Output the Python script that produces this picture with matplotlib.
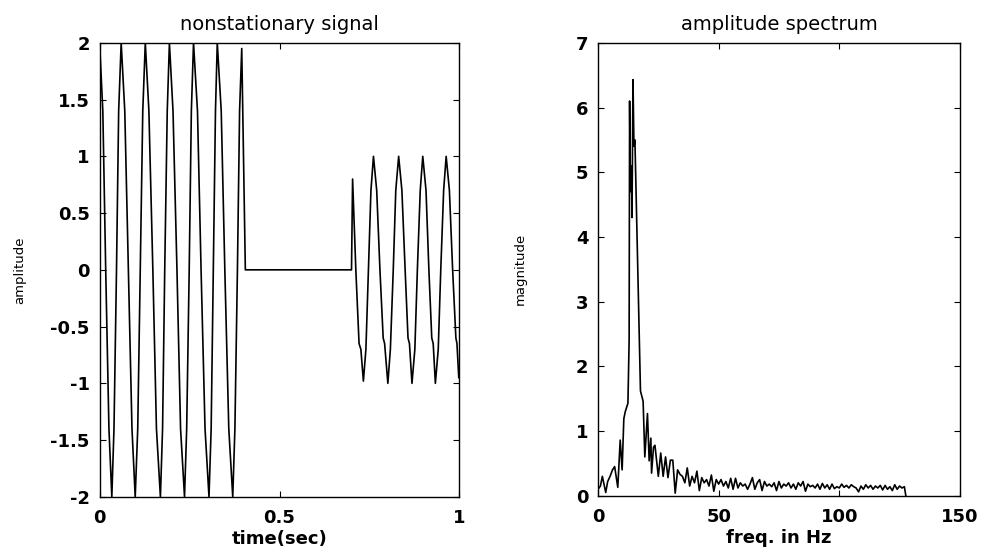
import matplotlib
matplotlib.use("Agg")
import matplotlib.pyplot as plt
from matplotlib.ticker import FuncFormatter

# ---- left panel: nonstationary signal ----
sig_t = [
    0.000, 0.009, 0.017, 0.026, 0.034, 0.040, 0.047, 0.053, 0.060,
    0.070, 0.080, 0.090, 0.099, 0.106, 0.113, 0.120, 0.127,
    0.137, 0.148, 0.158, 0.169, 0.175, 0.181, 0.188, 0.194,
    0.204, 0.215, 0.225, 0.236, 0.242, 0.249, 0.255, 0.261,
    0.272, 0.282, 0.293, 0.304, 0.310, 0.316, 0.322, 0.327,
    0.338, 0.348, 0.359, 0.370, 0.376, 0.383, 0.389, 0.395,
    0.405, 0.700,
    0.703, 0.712, 0.721, 0.726, 0.733, 0.740, 0.747, 0.754, 0.761,
    0.770, 0.779, 0.788, 0.792, 0.801, 0.808, 0.816, 0.823, 0.831,
    0.840, 0.849, 0.857, 0.861, 0.868, 0.876, 0.883, 0.891, 0.898,
    0.907, 0.915, 0.923, 0.927, 0.933, 0.941, 0.948, 0.956, 0.963,
    0.972, 0.981, 0.990, 0.993, 0.998,
]
sig_y = [
    2.0, 1.4, 0.0, -1.4, -2.0, -1.4, 0.0, 1.4, 2.0,
    1.4, 0.0, -1.4, -2.0, -1.4, 0.0, 1.4, 2.0,
    1.4, 0.0, -1.4, -2.0, -1.4, 0.0, 1.4, 2.0,
    1.4, 0.0, -1.4, -2.0, -1.4, 0.0, 1.4, 2.0,
    1.4, 0.0, -1.4, -2.0, -1.4, 0.0, 1.4, 2.0,
    1.4, 0.0, -1.4, -2.0, -1.4, 0.0, 1.4, 1.95,
    0.0, 0.0,
    0.80, 0.00, -0.65, -0.70, -0.98, -0.70, 0.00, 0.70, 1.00,
    0.70, 0.00, -0.60, -0.65, -1.00, -0.70, 0.00, 0.70, 1.00,
    0.70, 0.00, -0.60, -0.65, -1.00, -0.70, 0.00, 0.70, 1.00,
    0.70, 0.00, -0.60, -0.65, -1.00, -0.70, 0.00, 0.70, 1.00,
    0.70, 0.00, -0.60, -0.65, -0.95,
]

# ---- right panel: amplitude spectrum ----
spec_f = [
    0, 1, 1.8, 3.2, 4, 5, 6, 6.9, 8.2, 9.2, 10, 10.7, 11.3, 12.4,
    12.9, 13.1, 13.4, 13.8, 14.1, 14.5, 14.9, 15.3, 16.2, 17.6, 18.7,
    19.4, 20.5, 21.2, 21.9, 22.2, 23, 23.6, 25, 26, 27, 28, 29, 30,
    31, 32, 33, 34, 35, 36, 37, 38, 39, 40, 41, 42, 43, 44, 45, 46,
    47, 48, 49, 50, 51, 52, 53, 54, 55, 56, 57, 58, 59, 60, 61, 62,
    63, 64, 65, 66, 67, 68, 69, 70, 71, 72, 73, 74, 75, 76, 77, 78,
    79, 80, 81, 82, 83, 84, 85, 86, 87, 88, 89, 90, 91, 92, 93, 94,
    95, 96, 97, 98, 99, 100, 101, 102, 103, 104, 105, 106, 107, 108,
    109, 110, 111, 112, 113, 114, 115, 116, 117, 118, 119, 120, 121,
    122, 123, 124, 125, 126, 127, 127.6,
]
spec_mag = [
    0.10, 0.15, 0.30, 0.05, 0.22, 0.30, 0.40, 0.45, 0.13, 0.86, 0.40, 1.19, 1.30, 1.43,
    2.40, 6.10, 4.70, 5.10, 4.30, 6.43, 5.40, 5.50, 4.00, 1.62, 1.46,
    0.60, 1.27, 0.54, 0.89, 0.35, 0.75, 0.78, 0.30, 0.66, 0.30, 0.60, 0.28, 0.55,
    0.55, 0.04, 0.40, 0.33, 0.30, 0.20, 0.43, 0.15, 0.30, 0.20, 0.38, 0.08, 0.28, 0.20, 0.25, 0.15,
    0.32, 0.07, 0.25, 0.18, 0.25, 0.15, 0.22, 0.12, 0.27, 0.10, 0.27, 0.12, 0.20, 0.15, 0.18, 0.10,
    0.18, 0.28, 0.10, 0.20, 0.25, 0.08, 0.22, 0.15, 0.18, 0.14, 0.20, 0.08, 0.22, 0.12, 0.18, 0.15,
    0.20, 0.12, 0.18, 0.10, 0.20, 0.15, 0.22, 0.07, 0.18, 0.14, 0.16, 0.12, 0.18, 0.10, 0.19, 0.12,
    0.17, 0.10, 0.18, 0.11, 0.14, 0.12, 0.18, 0.13, 0.16, 0.12, 0.17, 0.14, 0.12, 0.06,
    0.15, 0.10, 0.17, 0.12, 0.16, 0.10, 0.15, 0.12, 0.16, 0.09, 0.16, 0.10, 0.14,
    0.08, 0.17, 0.10, 0.15, 0.12, 0.14, 0.00,
]

plt.rcParams["font.family"] = ["DejaVu Sans"]

fmt = FuncFormatter(lambda v, _: f"{v:g}")


def style_axes(ax):
    ax.tick_params(direction="in", top=True, right=True, length=4, width=0.8,
                   labelsize=13, pad=7)
    ax.tick_params(axis="x", pad=9)
    for lbl in ax.get_xticklabels() + ax.get_yticklabels():
        lbl.set_fontweight("bold")
    for s in ax.spines.values():
        s.set_linewidth(1.0)
    ax.xaxis.set_major_formatter(fmt)
    ax.yaxis.set_major_formatter(fmt)


fig = plt.figure(figsize=(9.86, 5.49), dpi=100)

ax1 = fig.add_axes([0.101, 0.095, 0.365, 0.827])
ax1.plot(sig_t, sig_y, color="black", linewidth=1.2)
ax1.set_xlim(0, 1)
ax1.set_ylim(-2, 2)
ax1.set_xticks([0, 0.5, 1])
ax1.set_yticks([-2, -1.5, -1, -0.5, 0, 0.5, 1, 1.5, 2])
style_axes(ax1)
ax1.set_title("nonstationary signal", fontsize=14, pad=9)
ax1.set_xlabel("time(sec)", fontsize=13, fontweight="bold", labelpad=2)
ax1.set_ylabel("amplitude", fontsize=9.5)
ax1.yaxis.set_label_coords(-0.203, 0.5)

ax2 = fig.add_axes([0.6065, 0.097, 0.367, 0.825])
ax2.plot(spec_f, spec_mag, color="black", linewidth=1.2)
ax2.set_xlim(0, 150)
ax2.set_ylim(0, 7)
ax2.set_xticks([0, 50, 100, 150])
ax2.set_yticks([0, 1, 2, 3, 4, 5, 6, 7])
style_axes(ax2)
ax2.set_title("amplitude spectrum", fontsize=14, pad=9)
ax2.set_xlabel("freq. in Hz", fontsize=13, fontweight="bold", labelpad=2)
ax2.set_ylabel("magnitude", fontsize=9.5)
ax2.yaxis.set_label_coords(-0.196, 0.5)

fig.savefig("out.png", dpi=100)
